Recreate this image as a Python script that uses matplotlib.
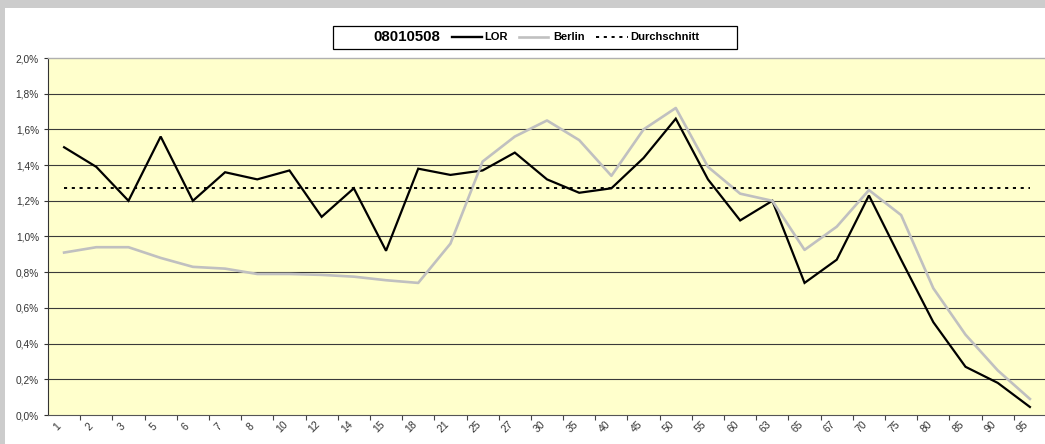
import matplotlib
matplotlib.use('Agg')
import matplotlib.pyplot as plt
from matplotlib.lines import Line2D
from matplotlib.patches import Rectangle
from matplotlib.ticker import FuncFormatter, MultipleLocator, FixedLocator
from matplotlib.transforms import ScaledTranslation

plt.rcParams['font.family'] = ['Liberation Sans', 'DejaVu Sans']

# ---- data ----
categories = ['1', '2', '3', '5', '6', '7', '8', '10', '12', '14', '15', '18', '21', '25', '27',
              '30', '35', '40', '45', '50', '55', '60', '63', '65', '67', '70', '75', '80', '85',
              '90', '95']
lor = [1.50, 1.39, 1.20, 1.56, 1.20, 1.36, 1.32, 1.37, 1.11, 1.27, 0.92, 1.38, 1.345, 1.37, 1.47,
       1.32, 1.245, 1.27, 1.44, 1.66, 1.32, 1.09, 1.20, 0.74, 0.87, 1.23, 0.87, 0.52, 0.27,
       0.18, 0.045]
berlin = [0.91, 0.94, 0.94, 0.88, 0.83, 0.82, 0.79, 0.79, 0.785, 0.775, 0.755, 0.74, 0.96, 1.42, 1.56,
          1.65, 1.54, 1.34, 1.60, 1.72, 1.39, 1.24, 1.20, 0.925, 1.055, 1.26, 1.12, 0.71, 0.45,
          0.25, 0.09]
average = [1.273] * len(categories)
legend_title = '08010508'
series_names = ['LOR', 'Berlin', 'Durchschnitt']

W, H = 1045, 444
fig = plt.figure(figsize=(W / 100, H / 100), dpi=100)
fig.patch.set_facecolor('#cccccc')

def fx(x):
    return x / W

def fy(y):
    return 1 - y / H

# white chart area
fig.add_artist(Rectangle((fx(5), 0), 1, fy(8), transform=fig.transFigure,
                         facecolor='white', edgecolor='none', zorder=0))

ax = fig.add_axes([fx(48), 29 / H, (1046 - 48) / W, 357 / H])
ax.set_facecolor('#ffffcc')
x = list(range(len(categories)))

ax.plot(x, lor, color='black', lw=1.6, zorder=3, solid_joinstyle='miter')
ax.plot(x, berlin, color='#c0c0c0', lw=1.9, zorder=4)
ax.plot(x, average, color='black', lw=1.4, linestyle=(0, (1.6, 2.4)), zorder=5)

ax.set_xlim(-0.5, len(categories) - 0.5)
ax.set_ylim(0, 2.0)
ax.yaxis.set_major_locator(MultipleLocator(0.2))
ax.yaxis.set_major_formatter(FuncFormatter(lambda v, p: f"{v:.1f}%".replace('.', ',')))
for yv in [0.2 * i for i in range(1, 10)]:
    ax.axhline(yv, color='#3a3a3a', lw=0.8, zorder=1)

for s in ['right']:
    ax.spines[s].set_visible(False)
ax.spines['top'].set_color('#b0b0b0')
ax.spines['top'].set_linewidth(1.0)
ax.spines['left'].set_color('#333333')
ax.spines['bottom'].set_color('#555555')
ax.spines['left'].set_linewidth(0.8)
ax.spines['bottom'].set_linewidth(0.8)

ax.tick_params(axis='y', direction='out', length=3, width=0.8, color='#333333',
               labelsize=7.3, pad=3.5, labelcolor='#333333')

ax.set_xticks(x)
ax.set_xticklabels([])
ax.tick_params(axis='x', which='major', length=0)
ax.xaxis.set_minor_locator(FixedLocator([i + 0.5 for i in range(len(categories))]))
ax.tick_params(axis='x', which='minor', direction='out', length=3.5, width=0.8, color='#444444')

off = ScaledTranslation(-7 / 100, -12 / 100, fig.dpi_scale_trans)
for i, c in enumerate(categories):
    ax.text(i, 0, c, transform=ax.get_xaxis_transform() + off, rotation=45,
            ha='center', va='center', fontsize=7.6, color='#333333', clip_on=False)

# ---- legend box ----
fig.add_artist(Rectangle((fx(333), fy(49)), fx(737) - fx(333), fy(26) - fy(49),
                         transform=fig.transFigure, facecolor='white', edgecolor='black',
                         lw=0.9, zorder=10))
ty = fy(37)
fig.text(fx(373), ty, legend_title, fontsize=10.8, fontweight='bold', ha='left', va='center', zorder=11)
fig.add_artist(Line2D([fx(452), fx(482)], [ty, ty], transform=fig.transFigure,
                      color='black', lw=1.7, zorder=11))
fig.text(fx(484), ty, series_names[0], fontsize=8, fontweight='bold', ha='left', va='center', zorder=11)
fig.add_artist(Line2D([fx(519), fx(548)], [ty, ty], transform=fig.transFigure,
                      color='#c0c0c0', lw=1.9, zorder=11))
fig.text(fx(553), ty, series_names[1], fontsize=8, fontweight='bold', ha='left', va='center', zorder=11)
fig.add_artist(Line2D([fx(596), fx(628)], [ty, ty], transform=fig.transFigure,
                      color='black', lw=1.4, linestyle=(0, (1.6, 2.4)), zorder=11))
fig.text(fx(630), ty, series_names[2], fontsize=8, fontweight='bold', ha='left', va='center', zorder=11)

fig.savefig('out.png', dpi=100, facecolor=fig.get_facecolor())
